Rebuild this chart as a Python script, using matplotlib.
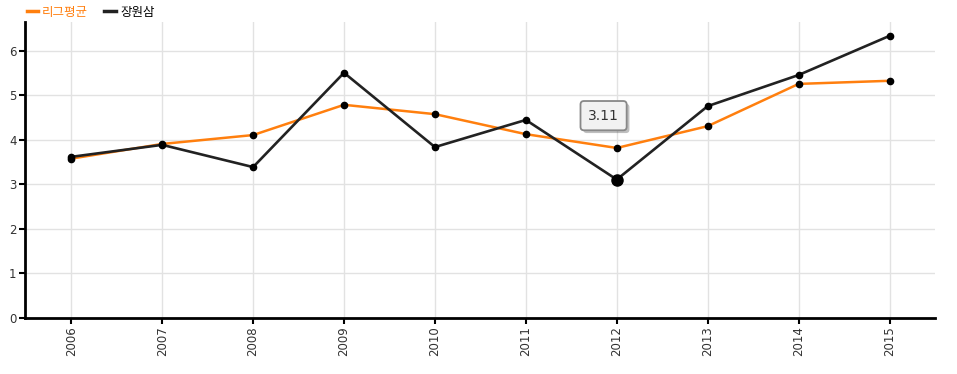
import numpy as np
import matplotlib.pyplot as plt
import matplotlib.patheffects as pe
from matplotlib.lines import Line2D

plt.rcParams['font.family'] = ['Noto Sans CJK KR', 'DejaVu Sans']

years = [2006, 2007, 2008, 2009, 2010, 2011, 2012, 2013, 2014, 2015]
league_avg = [3.58, 3.91, 4.11, 4.79, 4.58, 4.13, 3.82, 4.31, 5.26, 5.33]
player = [3.62, 3.89, 3.39, 5.51, 3.84, 4.45, 3.11, 4.76, 5.46, 6.34]
series_names = ['리그평균', '장원삼']
highlight_year = 2012

orange = '#ff7f0e'
dark = '#222222'

fig = plt.figure(figsize=(9.57, 3.74), dpi=100)
ax = fig.add_axes([0.026, 0.150, 0.951, 0.791])

ax.plot(years, league_avg, color=orange, lw=1.8, marker='o', ms=4.5,
        mfc='black', mec='black', zorder=3)
ax.plot(years, player, color=dark, lw=1.9, marker='o', ms=4.5,
        mfc='black', mec='black', zorder=3)

# highlighted point with tooltip
hi = years.index(highlight_year)
ax.plot(years[hi], player[hi], 'o', color='black', ms=8, zorder=4)
tip = ax.annotate(f'{player[hi]:.2f}', xy=(years[hi], player[hi]), xytext=(-9.5, 46),
                  textcoords='offset points', fontsize=10, color='#333333',
                  family='DejaVu Sans', ha='center', va='center', zorder=5,
                  bbox=dict(boxstyle='round,pad=0.55,rounding_size=0.25', fc='#f2f2f2',
                            ec='#888888', lw=1.3))
tip.get_bbox_patch().set_path_effects([pe.SimplePatchShadow(offset=(2, -2), alpha=0.35),
                                       pe.Normal()])

ax.set_xlim(2005.49, 2015.5)
ax.set_ylim(0, 6.65)
ax.set_xticks(years)
ax.set_xticklabels([str(y) for y in years], rotation=90, fontsize=8.5,
                   family='DejaVu Sans')
ax.set_yticks(range(0, 7))
ax.set_yticklabels([str(v) for v in range(0, 7)], fontsize=8.5, family='DejaVu Sans')

ax.grid(True, color='#e2e2e2', lw=1.0)
ax.set_axisbelow(True)
for s in ['top', 'right']:
    ax.spines[s].set_visible(False)
for s in ['left', 'bottom']:
    ax.spines[s].set_linewidth(2)
    ax.spines[s].set_color('black')
ax.tick_params(length=4, width=1.5, color='black', pad=2, labelcolor='#333333')

handles = [Line2D([0], [0], color=orange, lw=2.5),
           Line2D([0], [0], color=dark, lw=2.5)]
fig.legend(handles, series_names, loc='upper left', bbox_to_anchor=(0.016, 1.015),
           ncol=2, frameon=False, fontsize=9, handlelength=0.9, handletextpad=0.35,
           columnspacing=1.3, labelcolor=[orange, 'black'])

plt.savefig('out.png', dpi=100)
